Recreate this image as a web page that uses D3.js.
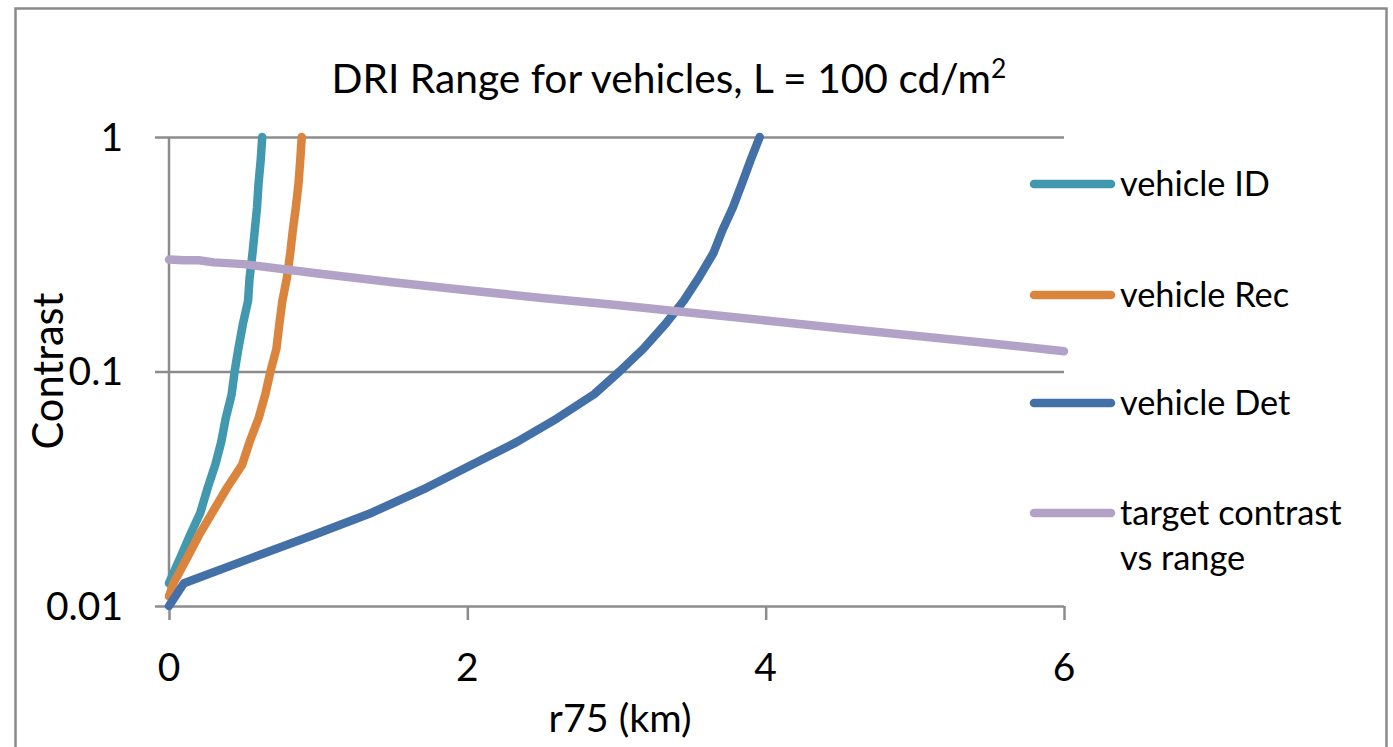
<!DOCTYPE html>
<html><head><meta charset="utf-8">
<script src="https://cdn.jsdelivr.net/npm/d3@7"></script>
<style>body{margin:0;background:#fff}svg{display:block}text{font-family:Lato,"Open Sans",sans-serif;fill:#000}</style>
</head><body><svg id="c" width="1393" height="747"></svg>
<script>
// ---- data ----
const contrastLevels = [0.0125,0.016,0.02,0.025,0.032,0.04,0.05,0.063,0.08,0.1,0.125,0.16,0.2,0.25,0.32,0.4,0.5,0.63,0.8,1];
const idRange  = [0.00,0.074,0.14,0.21,0.26,0.31,0.35,0.38,0.42,0.44,0.465,0.496,0.53,0.54,0.56,0.575,0.59,0.60,0.615,0.625];
const recContrast = [0.011,0.0125,0.016,0.02,0.025,0.032,0.04,0.05,0.063,0.08,0.1,0.125,0.16,0.2,0.25,0.32,0.4,0.5,0.63,0.8,1];
const recRange = [0.00,0.03,0.12,0.20,0.29,0.39,0.49,0.54,0.60,0.646,0.68,0.72,0.74,0.76,0.79,0.813,0.83,0.85,0.868,0.88,0.89];
const detContrast = [0.01,0.0125,0.016,0.02,0.025,0.032,0.04,0.05,0.063,0.08,0.1,0.125,0.16,0.2,0.25,0.32,0.4,0.5,0.63,0.8,1];
const detRange = [0.00,0.10,0.55,0.96,1.36,1.73,2.03,2.33,2.60,2.85,3.02,3.18,3.33,3.45,3.55,3.65,3.71,3.78,3.84,3.90,3.96];
const targetRange = [0,0.1,0.2,0.3,0.5,1,1.5,2,2.5,3,3.5,4,4.5,5,5.5,6];
const targetContrast = [0.300,0.298,0.298,0.292,0.287,0.262,0.240,0.222,0.206,0.192,0.178,0.165,0.153,0.142,0.132,0.122];
const xTicks = [0,2,4,6];
const yTicks = [0.01,0.1,1];
const yTickLabels = ["0.01","0.1","1"];
const seriesNames = ["vehicle ID","vehicle Rec","vehicle Det","target contrast vs range"];
const seriesColors = ["#4198AF","#DB843D","#4470A8","#B3A2C7"];

// ---- build ----
const svg = d3.select("#c");
const x = d3.scaleLinear().domain([0,6]).range([169,1064]);
const y = d3.scaleLog().domain([0.01,1]).range([606,137]);
const grid = "#8c8c8c";

function fit(sel, w){ const len = sel.node().getComputedTextLength(); sel.attr("font-size", parseFloat(sel.attr("font-size"))*w/len); return sel; }

svg.append("rect").attr("x",15.5).attr("y",8.5).attr("width",1371).attr("height",760)
  .attr("fill","#fff").attr("stroke","#8a8a8a").attr("stroke-width",2.5);

// y axis grid + ticks
const yg = svg.append("g").attr("transform","translate(1064,0)").call(d3.axisLeft(y).tickValues(yTicks).tickSize(1064-155).tickFormat(""));
yg.select(".domain").remove();
yg.selectAll("line").attr("stroke",grid).attr("stroke-width",2.5);
yTicks.forEach((t,i)=>{
  svg.append("text").attr("class","ytl").attr("x",123).attr("y",y(t)).attr("dy","0.35em")
    .attr("text-anchor","end").attr("font-size",40).text(yTickLabels[i]);
});
// x axis ticks
const xg = svg.append("g").attr("transform","translate(0,606)").call(d3.axisBottom(x).tickValues(xTicks).tickSize(14).tickFormat(""));
xg.select(".domain").remove();
xg.selectAll("line").attr("stroke",grid).attr("stroke-width",2.5);
svg.append("line").attr("x1",x(0)).attr("x2",x(0)).attr("y1",137).attr("y2",606).attr("stroke",grid).attr("stroke-width",2.5);
xTicks.forEach(t=>{
  svg.append("text").attr("x",x(t)).attr("y",667).attr("dy","0.35em").attr("text-anchor","middle").attr("font-size",40).text(t);
});
const ref = fit(svg.selectAll(".ytl").filter((d,i)=>i===0), 77);
const fs = ref.attr("font-size");
svg.selectAll("text").attr("font-size",fs);

// axis titles
fit(svg.append("text").attr("x",620).attr("y",718).attr("dy","0.35em").attr("text-anchor","middle").attr("font-size",40).text("r75 (km)"),143);
fit(svg.append("text").attr("transform","translate(48,371) rotate(-90)").attr("dy","0.35em").attr("text-anchor","middle").attr("font-size",40).text("Contrast"),157);
// title
const title = svg.append("text").attr("x",669).attr("y",93).attr("text-anchor","middle").attr("font-size",40);
title.append("tspan").text("DRI Range for vehicles, L = 100 cd/m");
title.append("tspan").attr("dy",-15).attr("font-size","0.65em").text("2");
fit(title,675);

// series
const line = d3.line().x(d=>x(d[0])).y(d=>y(d[1]));
const seriesData = [
  idRange.map((r,i)=>[r,contrastLevels[i]]),
  recRange.map((r,i)=>[r,recContrast[i]]),
  detRange.map((r,i)=>[r,detContrast[i]]),
  targetRange.map((r,i)=>[r,targetContrast[i]])
];
seriesData.forEach((d,i)=>{
  svg.append("path").datum(d).attr("d",line).attr("fill","none").attr("stroke",seriesColors[i])
    .attr("stroke-width",8.5).attr("stroke-linejoin","round").attr("stroke-linecap","round");
});

// legend
const legY = [184,295,403,513];
seriesNames.forEach((n,i)=>{
  svg.append("line").attr("x1",1034).attr("x2",1111).attr("y1",legY[i]).attr("y2",legY[i])
    .attr("stroke",seriesColors[i]).attr("stroke-width",8.5).attr("stroke-linecap","round");
});
const l0 = fit(svg.append("text").attr("x",1120).attr("y",legY[0]).attr("dy","0.35em").attr("font-size",36).text("vehicle ID"),150);
const lfs = l0.attr("font-size");
svg.append("text").attr("x",1120).attr("y",legY[1]).attr("dy","0.35em").attr("font-size",lfs).text("vehicle Rec");
svg.append("text").attr("x",1120).attr("y",legY[2]).attr("dy","0.35em").attr("font-size",lfs).text("vehicle Det");
svg.append("text").attr("x",1120).attr("y",legY[3]).attr("dy","0.35em").attr("font-size",lfs).text("target contrast");
svg.append("text").attr("x",1120).attr("y",558).attr("dy","0.35em").attr("font-size",lfs).text("vs range");
</script></body></html>
